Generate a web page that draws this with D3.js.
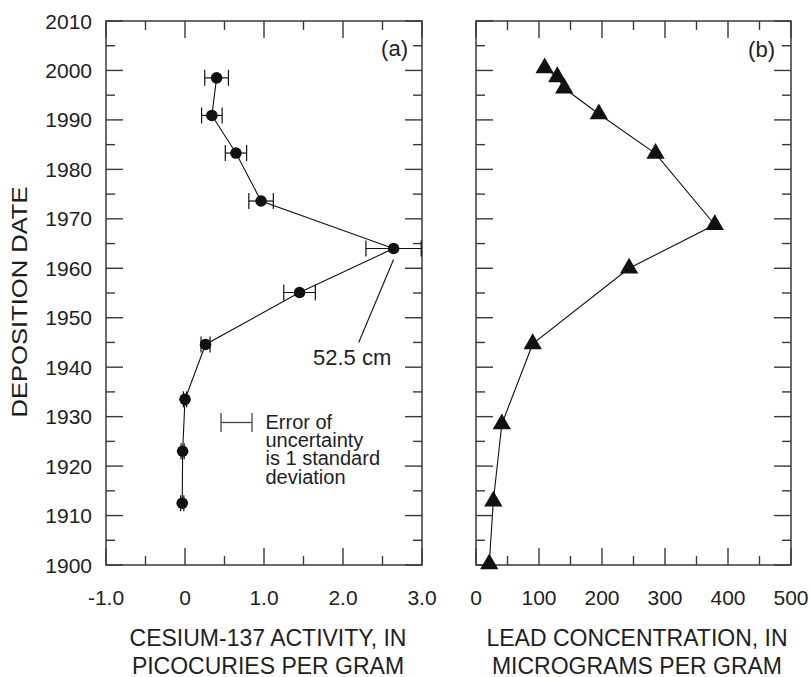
<!DOCTYPE html>
<html>
<head>
<meta charset="utf-8">
<script src="https://cdn.jsdelivr.net/npm/d3@7"></script>
<style>
  html, body { margin: 0; padding: 0; background: #fff; }
  svg { display: block; font-family: "Liberation Sans", Arial, Helvetica, sans-serif; }
</style>
</head>
<body>
<svg id="chart" width="810" height="677"></svg>
<script>
// Deposition dates shared by both panels' vertical axis
const yearTicks = [1900, 1910, 1920, 1930, 1940, 1950, 1960, 1970, 1980, 1990, 2000, 2010];

// Panel (a): cesium-137 activity, picocuries per gram
const csDates    = [1998.5, 1990.9, 1983.3, 1973.6, 1964.0, 1955.1, 1944.6, 1933.5, 1923.0, 1912.5];
const csActivity = [0.40, 0.34, 0.645, 0.963, 2.64, 1.45, 0.26, 0.00, -0.03, -0.035];
const csError    = [0.15, 0.13, 0.135, 0.155, 0.35, 0.20, 0.057, 0.02, 0.02, 0.02];
const csTicks      = [-1, 0, 1, 2, 3];
const csTickLabels = ["-1.0", "0", "1.0", "2.0", "3.0"];

// Panel (b): lead concentration, micrograms per gram
const pbDates = [2000.5, 1998.7, 1996.4, 1991.2, 1983.2, 1968.8, 1960.0, 1944.7, 1928.5, 1912.9, 1900.2];
const pbConc  = [109, 129, 140, 195, 285, 379, 243, 90, 41, 27.5, 21];
const pbTicks = [0, 100, 200, 300, 400, 500];

const svg = d3.select("#chart");
const plotTop = 21, plotBottom = 565;
const axisColor = "#3a3a3a", textColor = "#1e1e1e";

const y = d3.scaleLinear().domain([1900, 2010]).range([plotBottom, plotTop]);
const xa = d3.scaleLinear().domain([-1, 3]).range([106, 422]);
const xb = d3.scaleLinear().domain([0, 500]).range([476, 791]);

// Frame with inward ticks on all four sides
function frame(x, majors, minorStep) {
  const g = svg.append("g");
  const [x0, x1] = x.range();
  const d = x.domain();
  const minors = d3.range(d[0], d[1] + 1e-9, minorStep).filter(v => !majors.some(m => Math.abs(m - v) < 1e-9));
  const yMinors = d3.range(1905, 2010, 10);
  const majLen = 17, minLen = 9;
  const tick = (x1_, y1_, x2_, y2_) => g.append("line")
    .attr("x1", x1_).attr("y1", y1_).attr("x2", x2_).attr("y2", y2_)
    .attr("stroke", axisColor).attr("stroke-width", 1.4);
  majors.forEach(v => { tick(x(v), plotTop, x(v), plotTop + majLen); tick(x(v), plotBottom, x(v), plotBottom - majLen); });
  minors.forEach(v => { tick(x(v), plotTop, x(v), plotTop + minLen); tick(x(v), plotBottom, x(v), plotBottom - minLen); });
  yearTicks.forEach(v => { tick(x0, y(v), x0 + majLen, y(v)); tick(x1, y(v), x1 - majLen, y(v)); });
  yMinors.forEach(v => { tick(x0, y(v), x0 + minLen, y(v)); tick(x1, y(v), x1 - minLen, y(v)); });
  g.append("rect").attr("x", x0).attr("y", plotTop).attr("width", x1 - x0).attr("height", plotBottom - plotTop)
    .attr("fill", "none").attr("stroke", axisColor).attr("stroke-width", 1.5);
}

frame(xa, csTicks, 0.5);
frame(xb, pbTicks, 50);

// Year labels on the left axis
svg.append("g").selectAll("text").data(yearTicks).join("text")
  .attr("x", 92).attr("y", d => y(d)).attr("dy", "0.36em")
  .attr("text-anchor", "end").attr("font-size", 21).attr("fill", textColor)
  .text(d => d);

svg.append("text")
  .attr("transform", "translate(27,302) rotate(-90)")
  .attr("text-anchor", "middle").attr("font-size", 21.5).attr("fill", textColor)
  .attr("textLength", 231).attr("lengthAdjust", "spacingAndGlyphs")
  .text("DEPOSITION DATE");

// X tick labels
svg.append("g").selectAll("text").data(csTicks).join("text")
  .attr("x", d => xa(d)).attr("y", 605).attr("text-anchor", "middle")
  .attr("font-size", 21).attr("fill", textColor)
  .text((d, i) => csTickLabels[i]);
svg.append("g").selectAll("text").data(pbTicks).join("text")
  .attr("x", d => xb(d)).attr("y", 605).attr("text-anchor", "middle")
  .attr("font-size", 21).attr("fill", textColor)
  .text(d => d);

// Axis titles
function title(cx, lines) {
  lines.forEach((t, i) => svg.append("text")
    .attr("x", cx).attr("y", 646 + i * 27.5).attr("text-anchor", "middle")
    .attr("font-size", 23).attr("fill", textColor).text(t));
}
title(268, ["CESIUM-137 ACTIVITY, IN", "PICOCURIES PER GRAM"]);
title(637, ["LEAD CONCENTRATION, IN", "MICROGRAMS PER GRAM"]);

// Panel letters
svg.append("text").attr("x", 408).attr("y", 56).attr("text-anchor", "end")
  .attr("font-size", 22).attr("fill", textColor).text("(a)");
svg.append("text").attr("x", 775).attr("y", 57).attr("text-anchor", "end")
  .attr("font-size", 22).attr("fill", textColor).text("(b)");

// Panel (a) series
const csData = csDates.map((d, i) => ({ date: d, v: csActivity[i], e: csError[i] }));
svg.append("path").datum(csData)
  .attr("fill", "none").attr("stroke", "#111").attr("stroke-width", 1.1)
  .attr("d", d3.line().x(d => xa(d.v)).y(d => y(d.date)));

const eb = svg.append("g").attr("stroke", "#111").attr("stroke-width", 1.2);
const capH = 8;
csData.forEach(d => {
  const cy = y(d.date), lo = xa(d.v - d.e), hi = xa(d.v + d.e);
  eb.append("line").attr("x1", lo).attr("x2", hi).attr("y1", cy).attr("y2", cy);
  eb.append("line").attr("x1", lo).attr("x2", lo).attr("y1", cy - capH).attr("y2", cy + capH);
  eb.append("line").attr("x1", hi).attr("x2", hi).attr("y1", cy - capH).attr("y2", cy + capH);
});
svg.append("g").selectAll("circle").data(csData).join("circle")
  .attr("cx", d => xa(d.v)).attr("cy", d => y(d.date)).attr("r", 5.8).attr("fill", "#111");

// Depth annotation on the 1964 peak
const peak = csData[4];
svg.append("line")
  .attr("x1", xa(peak.v)).attr("y1", y(peak.date) + 11)
  .attr("x2", 358.7).attr("y2", 342.5)
  .attr("stroke", "#111").attr("stroke-width", 1.1);
svg.append("text").attr("x", 313).attr("y", 365)
  .attr("font-size", 22).attr("fill", textColor).text("52.5 cm");

// Error bar key
const key = svg.append("g").attr("stroke", "#444").attr("stroke-width", 1.3);
key.append("line").attr("x1", 221).attr("x2", 252).attr("y1", 422.5).attr("y2", 422.5);
key.append("line").attr("x1", 221).attr("x2", 221).attr("y1", 413).attr("y2", 432);
key.append("line").attr("x1", 252).attr("x2", 252).attr("y1", 413).attr("y2", 432);
["Error of", "uncertainty", "is 1 standard", "deviation"].forEach((t, i) =>
  svg.append("text").attr("x", 265.5).attr("y", 429 + i * 18.2)
    .attr("font-size", 20).attr("fill", textColor).text(t));

// Panel (b) series
const pbData = pbDates.map((d, i) => ({ date: d, v: pbConc[i] }));
svg.append("path").datum(pbData)
  .attr("fill", "none").attr("stroke", "#111").attr("stroke-width", 1.1)
  .attr("d", d3.line().x(d => xb(d.v)).y(d => y(d.date)));
svg.append("g").selectAll("path").data(pbData).join("path")
  .attr("transform", d => `translate(${xb(d.v)},${y(d.date)})`)
  .attr("d", d3.symbol().type(d3.symbolTriangle).size(145))
  .attr("fill", "#111");
</script>
</body>
</html>
